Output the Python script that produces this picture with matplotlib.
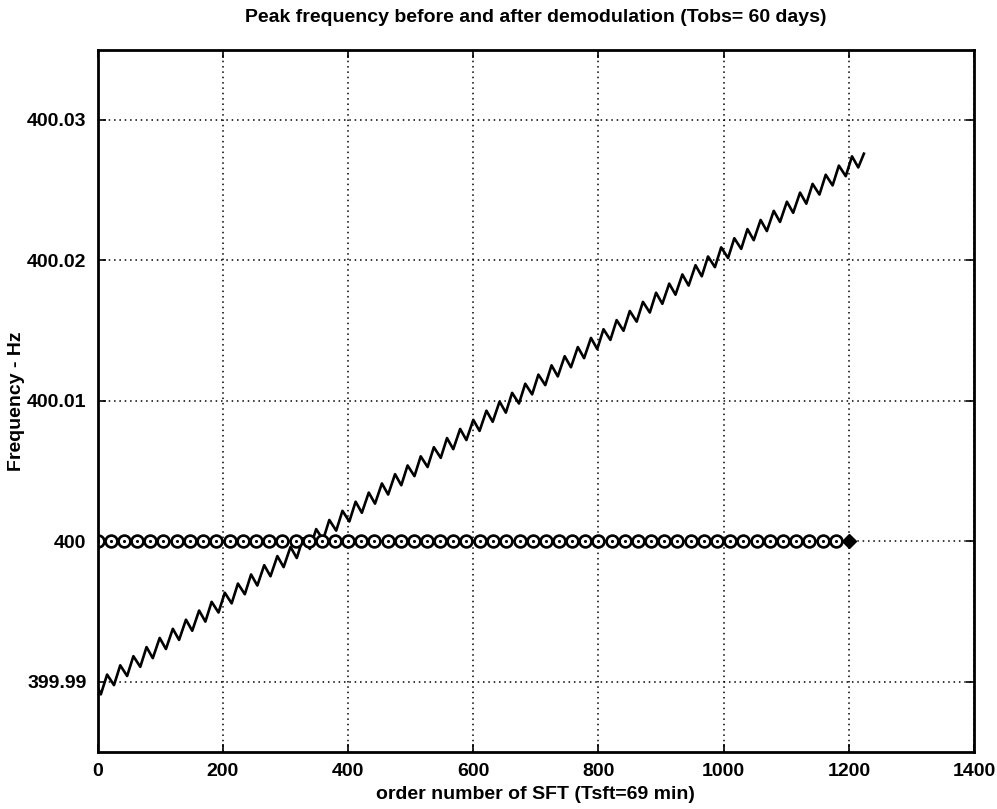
import matplotlib
matplotlib.use("Agg")
import matplotlib.pyplot as plt
import numpy as np

plt.rcParams['font.family'] = ['Liberation Sans', 'DejaVu Sans']
plt.rcParams['font.weight'] = 'bold'

# peak frequency before demodulation: extremes of the daily wobble (SFT index, mHz above 400 Hz)
raw_sft = [0, 5, 15, 26, 36, 47, 57, 68, 78, 88, 99, 109, 120, 130, 141, 151, 162, 172, 182,
           193, 203, 214, 224, 235, 245, 255, 266, 276, 287, 297, 308, 318, 328, 339, 349, 360,
           370, 381, 391, 402, 412, 422, 433, 443, 454, 464, 475, 485, 495, 506, 516, 527, 537,
           548, 558, 568, 579, 589, 600, 610, 621, 631, 642, 652, 662, 673, 683, 694, 704, 715,
           725, 735, 746, 756, 767, 777, 788, 798, 808, 819, 829, 840, 850, 861, 871, 882, 892,
           902, 913, 923, 934, 944, 955, 965, 975, 986, 996, 1007, 1017, 1028, 1038, 1048, 1059,
           1069, 1080, 1090, 1101, 1111, 1122, 1132, 1142, 1153, 1163, 1174, 1184, 1195, 1205,
           1215, 1224]
raw_mhz = [-10.40, -10.90, -9.49, -10.24, -8.83, -9.59, -8.18, -8.94, -7.53, -8.32, -6.88, -7.67,
           -6.23, -7.02, -5.58, -6.37, -4.93, -5.72, -4.31, -5.07, -3.66, -4.42, -3.01, -3.77,
           -2.36, -3.15, -1.70, -2.49, -1.05, -1.84, -0.40, -1.19, 0.22, -0.54, 0.87, 0.11, 1.52,
           0.76, 2.17, 1.41, 2.82, 2.03, 3.47, 2.68, 4.12, 3.33, 4.78, 3.99, 5.40, 4.64, 6.05,
           5.29, 6.70, 5.94, 7.35, 6.56, 8.00, 7.21, 8.65, 7.86, 9.30, 8.51, 9.95, 9.16, 10.57,
           9.81, 11.22, 10.46, 11.87, 11.12, 12.53, 11.74, 13.18, 12.39, 13.83, 13.04, 14.48,
           13.69, 15.10, 14.34, 15.75, 14.99, 16.40, 15.64, 17.05, 16.29, 17.70, 16.91, 18.35,
           17.56, 19.00, 18.21, 19.66, 18.87, 20.28, 19.52, 20.93, 20.17, 21.58, 20.82, 22.23,
           21.44, 22.88, 22.09, 23.53, 22.74, 24.18, 23.39, 24.83, 24.04, 25.45, 24.69, 26.10,
           25.34, 26.75, 26.00, 27.41, 26.62, 27.60]

# peak frequency after demodulation, one point per day
demod_sft = [0, 21, 42, 63, 84, 105, 126, 147, 168, 189, 211, 232, 253, 274, 295, 316, 337, 358,
             379, 400, 421, 442, 463, 484, 505, 526, 547, 568, 589, 610, 632, 653, 674, 695, 716,
             737, 758, 779, 800, 821, 842, 863, 884, 905, 926, 947, 968, 989, 1010, 1031, 1053,
             1074, 1095, 1116, 1137, 1158, 1179, 1200]
demod_hz = [400.0000, 400.0000, 400.0000, 400.0000, 400.0000, 400.0000, 400.0000, 400.0000,
            400.0000, 400.0000, 400.0000, 400.0000, 400.0000, 400.0000, 400.0000, 400.0000,
            400.0000, 400.0000, 400.0000, 400.0000, 400.0000, 400.0000, 400.0000, 400.0000,
            400.0000, 400.0000, 400.0000, 400.0000, 400.0000, 400.0000, 400.0000, 400.0000,
            400.0000, 400.0000, 400.0000, 400.0000, 400.0000, 400.0000, 400.0000, 400.0000,
            400.0000, 400.0000, 400.0000, 400.0000, 400.0000, 400.0000, 400.0000, 400.0000,
            400.0000, 400.0000, 400.0000, 400.0000, 400.0000, 400.0000, 400.0000, 400.0000,
            400.0000, 400.0000]

x_ticks = [0, 200, 400, 600, 800, 1000, 1200, 1400]
y_ticks = [399.99, 400.00, 400.01, 400.02, 400.03]
y_tick_labels = ['399.99', '400', '400.01', '400.02', '400.03']

fig = plt.figure(figsize=(9.97, 8.09), dpi=100)
ax = fig.add_axes([0.098, 0.0705, 0.879, 0.868])

raw_hz = 400 + np.array(raw_mhz) * 1e-3
ax.plot(raw_sft, raw_hz, color='black', linewidth=1.9, solid_joinstyle='round')

# demodulated peaks: circles with a dot, last one a diamond
ax.plot(demod_sft[:-1], demod_hz[:-1], color='black', linewidth=1.2, marker='o', markersize=8.5,
        markerfacecolor='white', markeredgecolor='black', markeredgewidth=1.9)
ax.plot(demod_sft[:-1], demod_hz[:-1], linestyle='none', marker='.', markersize=2.5, color='black')
ax.plot(demod_sft[-1:], demod_hz[-1:], linestyle='none', marker='D', markersize=7,
        color='black')

ax.set_xlim(0, 1400)
ax.set_ylim(399.985, 400.035)
ax.set_xticks(x_ticks)
ax.set_xticklabels([str(t) for t in x_ticks])
ax.set_yticks(y_ticks)
ax.set_yticklabels(y_tick_labels)
ax.grid(True, color='black', linestyle=(0, (1, 2.5)), linewidth=1.1)
ax.tick_params(direction='in', length=6, width=1.2, top=True, right=True, labelsize=14, pad=8)
for s in ax.spines.values():
    s.set_linewidth(2)

ax.set_title("Peak frequency before and after demodulation (Tobs= 60 days)",
             fontsize=14, fontweight='bold', pad=20)
ax.set_xlabel("order number of SFT (Tsft=69 min)", fontsize=14, fontweight='bold', labelpad=4)
ax.set_ylabel("Frequency - Hz", fontsize=14, fontweight='bold')
ax.yaxis.set_label_coords(-0.083, 0.5)

fig.savefig("out.png", dpi=100)
